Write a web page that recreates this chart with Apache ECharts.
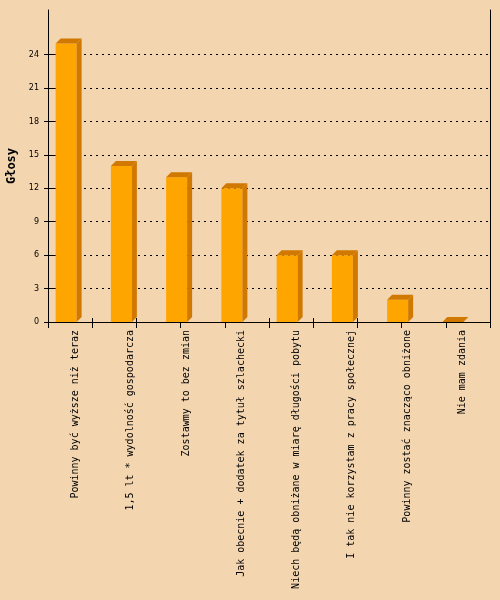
<!DOCTYPE html>
<html><head><meta charset="utf-8">
<script src="https://cdn.jsdelivr.net/npm/echarts@6/dist/echarts.min.js"></script>
<style>html,body{margin:0;padding:0;background:#F3D5B0;}#c{width:500px;height:600px;}</style>
</head><body><div id="c"></div>
<script>
const categories = [
  "Powinny być wyższe niż teraz",
  "1,5 lt * wydolność gospodarcza",
  "Zostawmy to bez zmian",
  "Jak obecnie + dodatek za tytuł szlachecki",
  "Niech będą obniżane w miarę długości pobytu",
  "I tak nie korzystam z pracy społecznej",
  "Powinny zostać znacząco obniżone",
  "Nie mam zdania"
];
const votes = [25, 14, 13, 12, 6, 6, 2, 0];
const yTicks = [0, 3, 6, 9, 12, 15, 18, 21, 24];
const yTitle = "Głosy";

const chart = echarts.init(document.getElementById('c'), null, {renderer: 'canvas'});
const FRONT = '#FFA500', SIDE = '#D07800';
const tickAxisBase = {type: 'value', min: 0, max: 10, interval: 1, position: 'bottom',
  axisLine: {show: false}, axisLabel: {show: false}, splitLine: {show: false}};
const yBase = {type: 'value', min: 0, max: 28, position: 'left'};
chart.setOption({
  backgroundColor: '#F3D5B0',
  animation: false,
  grid: {left: 48, right: 10, top: 10, bottom: 278, containLabel: false, outerBoundsMode: 'none'},
  xAxis: [
    {type: 'category', data: categories, position: 'bottom',
     axisLine: {show: true, lineStyle: {color: '#000', width: 1}},
     axisTick: {show: false},
     axisLabel: {rotate: 90, margin: 8, color: '#000', fontFamily: 'DejaVu Sans Mono', fontSize: 10, interval: 0},
     splitLine: {show: false}},
    Object.assign({}, tickAxisBase, {axisTick: {show: true, inside: true, length: 4, lineStyle: {color: '#000'}}}),
    Object.assign({}, tickAxisBase, {axisTick: {show: true, inside: false, length: 6, lineStyle: {color: '#000'}}})
  ],
  yAxis: [
    Object.assign({}, yBase, {
      name: yTitle, nameLocation: 'middle', nameGap: 28, nameRotate: 90,
      nameTextStyle: {fontFamily: 'DejaVu Sans Mono', fontWeight: 'bold', fontSize: 12, color: '#000'},
      axisLine: {show: true, lineStyle: {color: '#000', width: 1}},
      axisTick: {show: true, inside: true, length: 6, customValues: yTicks, lineStyle: {color: '#000'}},
      axisLabel: {customValues: yTicks, margin: 9, color: '#000', fontFamily: 'DejaVu Sans', fontSize: 8},
      splitLine: {show: true, lineStyle: {color: '#000', type: [2, 4], width: 1}}
    }),
    Object.assign({}, yBase, {
      axisLine: {show: false}, axisLabel: {show: false}, splitLine: {show: false},
      axisTick: {show: true, inside: false, length: 4, customValues: yTicks, lineStyle: {color: '#000'}}
    }),
    Object.assign({}, yBase, {position: 'right',
      axisLine: {show: true, lineStyle: {color: '#000', width: 1}},
      axisTick: {show: false}, axisLabel: {show: false}, splitLine: {show: false}})
  ],
  series: [{
    type: 'custom',
    xAxisIndex: 0, yAxisIndex: 0,
    data: votes.map((v, i) => [i, v]),
    renderItem: function (params, api) {
      const p = api.coord([api.value(0), api.value(1)]);
      const b = api.coord([api.value(0), 0]);
      const cx = p[0], top = p[1], bot = b[1];
      const L = cx - 20, R = cx + 1, d = 5;
      return {type: 'group', children: [
        {type: 'rect', shape: {x: L, y: top, width: R - L, height: bot - top}, style: {fill: FRONT}},
        {type: 'polygon', shape: {points: [[R, top], [R + d, top - d], [R + d, bot - d], [R, bot]]}, style: {fill: SIDE}},
        {type: 'polygon', shape: {points: [[L, top], [L + d, top - d], [R + d, top - d], [R, top]]}, style: {fill: SIDE}}
      ]};
    }
  }]
});
</script></body></html>
